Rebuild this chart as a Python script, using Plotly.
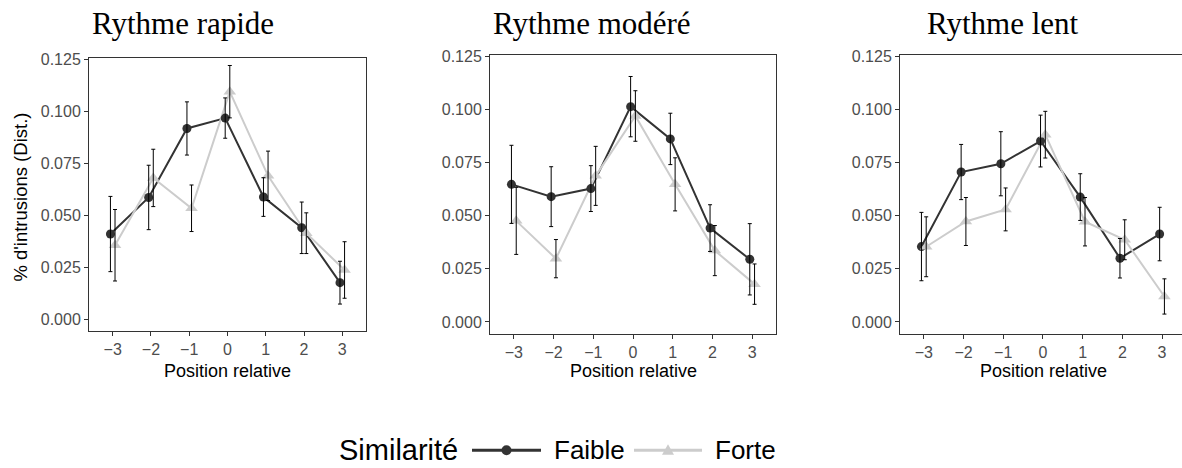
import plotly.graph_objects as go

# Relative serial position of the distractor intrusion
positions = [-3, -2, -1, 0, 1, 2, 3]
tick_labels = ["\u22123", "\u22122", "\u22121", "0", "1", "2", "3"]

panel_titles = ["Rythme rapide", "Rythme modéré", "Rythme lent"]
groups = ["Faible", "Forte"]

# Mean proportion of intrusions and its standard error, per presentation rate
rapide_faible = [0.0410, 0.0586, 0.0918, 0.0968, 0.0588, 0.0440, 0.0176]
rapide_faible_se = [0.0181, 0.0155, 0.0128, 0.0097, 0.0093, 0.0124, 0.0103]
rapide_forte = [0.0356, 0.0680, 0.0534, 0.1095, 0.0690, 0.0414, 0.0237]
rapide_forte_se = [0.0172, 0.0138, 0.0112, 0.0126, 0.0119, 0.0098, 0.0136]

modere_faible = [0.0648, 0.0590, 0.0628, 0.1014, 0.0862, 0.0442, 0.0295]
modere_faible_se = [0.0184, 0.0141, 0.0108, 0.0142, 0.0121, 0.0110, 0.0168]
modere_forte = [0.0476, 0.0298, 0.0688, 0.0970, 0.0648, 0.0336, 0.0178]
modere_forte_se = [0.0158, 0.0090, 0.0139, 0.0119, 0.0125, 0.0118, 0.0095]

lent_faible = [0.0355, 0.0706, 0.0745, 0.0852, 0.0588, 0.0300, 0.0414]
lent_faible_se = [0.0161, 0.0130, 0.0151, 0.0122, 0.0110, 0.0093, 0.0126]
lent_forte = [0.0354, 0.0473, 0.0530, 0.0882, 0.0472, 0.0387, 0.0120]
lent_forte_se = [0.0141, 0.0113, 0.0101, 0.0110, 0.0114, 0.0094, 0.0083]

y_ticks = [0.0, 0.025, 0.05, 0.075, 0.1, 0.125]

W, H = 1182, 468
FAIBLE_COL = "#333333"
FORTE_COL = "#CCCCCC"
SANS = "Liberation Sans, Arial, sans-serif"
SERIF = "Liberation Serif, Times New Roman, serif"
DODGE = 0.06


def px(x):
    return x / W


def py(y):
    return 1 - y / H


panels = [
    dict(data=(rapide_faible, rapide_faible_se, rapide_forte, rapide_forte_se),
         dom_x=(89, 366), dom_y=(52, 329), xr=(-3.62, 3.62), title_x=90),
    dict(data=(modere_faible, modere_faible_se, modere_forte, modere_forte_se),
         dom_x=(490, 776), dom_y=(49, 332), xr=(-3.6, 3.6), title_x=491),
    dict(data=(lent_faible, lent_faible_se, lent_forte, lent_forte_se),
         dom_x=(900, 1182), dom_y=(49, 332), xr=(-3.6, 3.503), title_x=925),
]

fig = go.Figure()
annotations = []
shapes = []

for i, p in enumerate(panels):
    k = "" if i == 0 else str(i + 1)
    xa, ya = "x" + k, "y" + k
    m_f, se_f, m_s, se_s = p["data"]
    x_f = [v - DODGE for v in positions]
    x_s = [v + DODGE for v in positions]

    # lines
    fig.add_trace(go.Scatter(x=x_f, y=m_f, mode="lines", xaxis=xa, yaxis=ya,
                             line=dict(color=FAIBLE_COL, width=2), showlegend=False))
    fig.add_trace(go.Scatter(x=x_s, y=m_s, mode="lines", xaxis=xa, yaxis=ya,
                             line=dict(color=FORTE_COL, width=2), showlegend=False))
    # points
    fig.add_trace(go.Scatter(x=x_f, y=m_f, mode="markers", xaxis=xa, yaxis=ya,
                             marker=dict(symbol="circle", size=9, color=FAIBLE_COL),
                             showlegend=False))
    fig.add_trace(go.Scatter(x=x_s, y=m_s, mode="markers", xaxis=xa, yaxis=ya,
                             marker=dict(symbol="triangle-up", size=11, color=FORTE_COL),
                             showlegend=False))
    # error bars
    for xs, ms, ses in ((x_f, m_f, se_f), (x_s, m_s, se_s)):
        fig.add_trace(go.Scatter(
            x=xs, y=ms, mode="markers", xaxis=xa, yaxis=ya,
            marker=dict(size=1, color="rgba(0,0,0,0)"),
            error_y=dict(type="data", array=ses, visible=True,
                         color="#000000", thickness=1, width=2),
            showlegend=False))

    axis_common = dict(showline=True, linecolor="#333333", linewidth=1,
                       ticks="outside", ticklen=4, tickwidth=1, tickcolor="#333333",
                       showgrid=False, zeroline=False,
                       tickfont=dict(family=SANS, size=16, color="#4D4D4D"))
    fig.update_layout({
        "xaxis" + k: dict(domain=[px(p["dom_x"][0]), px(p["dom_x"][1])],
                          range=list(p["xr"]), tickvals=positions, ticktext=tick_labels,
                          anchor=ya, mirror=True, **axis_common),
        "yaxis" + k: dict(domain=[py(p["dom_y"][1]), py(p["dom_y"][0])],
                          range=[-0.0057, 0.1256], tickvals=y_ticks,
                          tickformat=".3f", anchor=xa, mirror=(i < 2), **axis_common),
    })

    annotations.append(dict(text=panel_titles[i], xref="paper", yref="paper",
                            x=px(p["title_x"]), y=py(17), xanchor="left", yanchor="middle",
                            showarrow=False,
                            font=dict(family=SERIF, size=31, color="#000000")))
    cx = (p["dom_x"][0] + p["dom_x"][1] + (4 if i == 2 else 0)) / 2
    annotations.append(dict(text="Position relative", xref="paper", yref="paper",
                            x=px(cx), y=py(370), xanchor="center", yanchor="middle",
                            showarrow=False,
                            font=dict(family=SANS, size=18, color="#000000")))

annotations.append(dict(text="% d'intrusions (Dist.)", xref="paper", yref="paper",
                        x=px(20.5), y=py(193), xanchor="center", yanchor="middle",
                        textangle=-90, showarrow=False,
                        font=dict(family=SANS, size=18.5, color="#000000")))

# legend row
LEG_Y = 450
annotations.append(dict(text="Similarité", xref="paper", yref="paper",
                        x=px(337), y=py(LEG_Y), xanchor="left", yanchor="middle",
                        showarrow=False, font=dict(family=SANS, size=29, color="#000000")))
for label, col, x0, x1, tx in (("Faible", FAIBLE_COL, 472, 541, 552),
                                ("Forte", FORTE_COL, 634, 702, 713)):
    shapes.append(dict(type="line", xref="paper", yref="paper",
                       x0=px(x0), x1=px(x1), y0=py(LEG_Y), y1=py(LEG_Y),
                       line=dict(color=col, width=3)))
    annotations.append(dict(text=label, xref="paper", yref="paper",
                            x=px(tx), y=py(LEG_Y), xanchor="left", yanchor="middle",
                            showarrow=False, font=dict(family=SANS, size=26, color="#000000")))
cxm = (472 + 541) / 2
shapes.append(dict(type="circle", xref="paper", yref="paper",
                   x0=px(cxm - 5), x1=px(cxm + 5), y0=py(LEG_Y + 5), y1=py(LEG_Y - 5),
                   fillcolor=FAIBLE_COL, line=dict(width=0)))
cxt = (634 + 702) / 2
shapes.append(dict(type="path", xref="paper", yref="paper",
                   path=f"M {px(cxt - 6)} {py(LEG_Y + 4.5)} L {px(cxt + 6)} {py(LEG_Y + 4.5)} "
                        f"L {px(cxt)} {py(LEG_Y - 6)} Z",
                   fillcolor=FORTE_COL, line=dict(width=0)))

fig.update_layout(width=W, height=H, margin=dict(l=0, r=0, t=0, b=0),
                  paper_bgcolor="white", plot_bgcolor="white",
                  annotations=annotations, shapes=shapes, showlegend=False)

fig.write_html("out.html")
